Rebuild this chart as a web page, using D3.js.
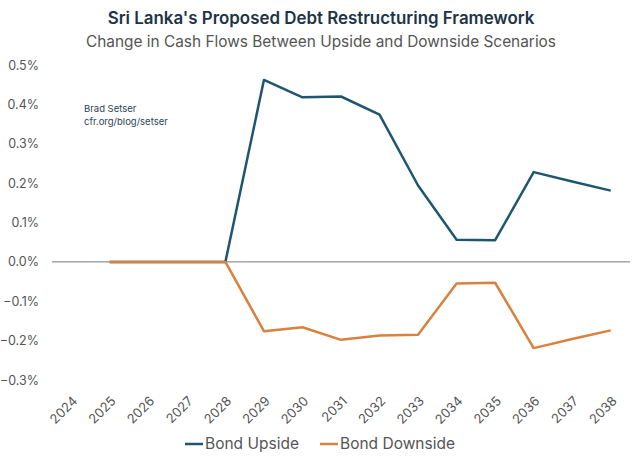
<!DOCTYPE html>
<html lang="en">
  <head>
    <meta charset="UTF-8" />
    <title>Sri Lanka's Proposed Debt Restructuring Framework</title>
    <script src="https://d3js.org/d3.v7.min.js"></script>
    <style>
      body {
        margin: 0;
        padding: 0;
        background: #ffffff;
        font-family: Inter, "Noto Sans", sans-serif;
      }
      .tick text {
        fill: #555;
      }
    </style>
  </head>
  <body>
    <div id="chart"></div>
    <script>
      const width = 640;
      const height = 464;

      const years = [
        "2024", "2025", "2026", "2027", "2028", "2029", "2030", "2031",
        "2032", "2033", "2034", "2035", "2036", "2037", "2038",
      ];
      // values in percent, 2024 has no data point
      const bondUpside = [
        null, 0, 0, 0, 0, 0.462, 0.418, 0.42, 0.374, 0.194, 0.056, 0.055,
        0.228, 0.204, 0.181,
      ];
      const bondDownside = [
        null, 0, 0, 0, 0, -0.176, -0.166, -0.198, -0.187, -0.185, -0.055,
        -0.053, -0.219, -0.196, -0.174,
      ];
      const yTicks = [0.5, 0.4, 0.3, 0.2, 0.1, 0, -0.1, -0.2, -0.3];

      const series = [
        { name: "Bond Upside", values: bondUpside, color: "#1e5670" },
        { name: "Bond Downside", values: bondDownside, color: "#d9813e" },
      ];

      const svg = d3
        .select("#chart")
        .append("svg")
        .attr("width", width)
        .attr("height", height);

      // title
      svg
        .append("text")
        .attr("x", 321)
        .attr("y", 24)
        .attr("text-anchor", "middle")
        .attr("font-size", "16.9px")
        .attr("font-weight", 600)
        .attr("fill", "#1d3447")
        .text("Sri Lanka's Proposed Debt Restructuring Framework");

      svg
        .append("text")
        .attr("x", 321)
        .attr("y", 47)
        .attr("text-anchor", "middle")
        .attr("font-size", "15.4px")
        .attr("fill", "#555")
        .text("Change in Cash Flows Between Upside and Downside Scenarios");

      const x = d3.scalePoint().domain(years).range([52, 630]).padding(0.5);
      const y = d3.scaleLinear().domain([-0.3, 0.5]).range([380, 65]);

      // y axis labels, no line
      const yAxis = svg
        .append("g")
        .attr("transform", "translate(39,0)")
        .call(
          d3
            .axisLeft(y)
            .tickValues(yTicks)
            .tickSize(0)
            .tickPadding(0)
            .tickFormat((d) => d3.format(".1f")(d) + "%")
        );
      yAxis.select(".domain").remove();
      yAxis.selectAll("text").attr("font-size", "12.5px").attr("font-family", "Inter, sans-serif");

      // zero line
      svg
        .append("line")
        .attr("x1", 52)
        .attr("x2", 630)
        .attr("y1", y(0))
        .attr("y2", y(0))
        .attr("stroke", "#777")
        .attr("stroke-width", 1);

      // x labels
      svg
        .append("g")
        .selectAll("text")
        .data(years)
        .enter()
        .append("text")
        .attr(
          "transform",
          (d) => `translate(${x(d)}, 395) rotate(-45)`
        )
        .attr("text-anchor", "end")
        .attr("dy", "0.75em")
        .attr("font-size", "13px")
        .attr("fill", "#555")
        .text((d) => d);

      // note
      const note = svg
        .append("text")
        .attr("x", 84)
        .attr("y", 112)
        .attr("font-size", "9.5px")
        .attr("fill", "#2b4457");
      note.append("tspan").attr("x", 84).text("Brad Setser");
      note.append("tspan").attr("x", 84).attr("dy", "13").text("cfr.org/blog/setser");

      const line = d3
        .line()
        .defined((d) => d != null)
        .x((d, i) => x(years[i]))
        .y((d) => y(d));

      svg
        .selectAll(".series")
        .data(series)
        .enter()
        .append("path")
        .attr("class", "series")
        .attr("fill", "none")
        .attr("stroke", (d) => d.color)
        .attr("stroke-width", 2.5)
        .attr("stroke-linejoin", "round")
        .attr("d", (d) => line(d.values));

      // legend
      const legendItems = [
        { x: 185, s: series[0] },
        { x: 320, s: series[1] },
      ];
      const legend = svg
        .append("g")
        .selectAll("g")
        .data(legendItems)
        .enter()
        .append("g")
        .attr("transform", (d) => `translate(${d.x}, 444)`);
      legend
        .append("line")
        .attr("x1", 0)
        .attr("x2", 18)
        .attr("stroke", (d) => d.s.color)
        .attr("stroke-width", 2.5);
      legend
        .append("text")
        .attr("x", 20)
        .attr("dy", "0.35em")
        .attr("font-size", "15.5px")
        .attr("fill", "#555")
        .text((d) => d.s.name);
    </script>
  </body>
</html>
